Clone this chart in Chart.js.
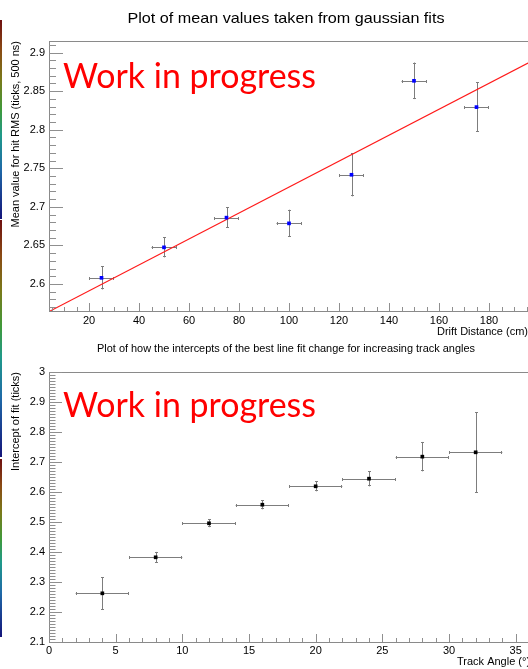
<!DOCTYPE html>
<html>
<head>
<meta charset="utf-8">
<script src="https://cdn.jsdelivr.net/npm/chart.js@4/dist/chart.umd.min.js"></script>
<style>
  html, body { margin: 0; padding: 0; background: #fff; }
  body { width: 528px; height: 669px; overflow: hidden; position: relative; }
  canvas { position: absolute; left: 0; }
  .strip { position: absolute; left: 0; width: 2px;
    background: linear-gradient(to bottom, #6e1010 0%, #8a4a14 15%, #7a7a1a 30%, #3f9a3a 45%, #1f9a8a 58%, #1f6aa8 75%, #14147a 100%); }
</style>
</head>
<body>
<div class="strip" style="top:20px;height:199px"></div>
<div class="strip" style="top:220px;height:237px"></div>
<div class="strip" style="top:459px;height:178px"></div>
<canvas id="c1" width="540" height="340" style="top:0"></canvas>
<canvas id="c2" width="560" height="334" style="top:335px"></canvas>
<script>
// ---------- data: top panel ----------
const driftDistance = [25, 50, 75, 100, 125, 150, 175];
const driftDistanceErr = [5, 5, 5, 5, 5, 5, 5];
const meanRMS = [2.608, 2.6475, 2.686, 2.6786, 2.7416, 2.8634, 2.8293];
const meanRMSErr = [0.0151, 0.013, 0.0134, 0.0177, 0.028, 0.0237, 0.032];
const fitLineX = [4, 196];
const fitLineY = [2.5642, 2.8870];
const topXTicks = [20, 40, 60, 80, 100, 120, 140, 160, 180];
const topXTickLabels = ['20', '40', '60', '80', '100', '120', '140', '160', '180'];
const topYTicks = [2.6, 2.65, 2.7, 2.75, 2.8, 2.85, 2.9];
const topYTickLabels = ['2.6', '2.65', '2.7', '2.75', '2.8', '2.85', '2.9'];

// ---------- data: bottom panel ----------
const trackAngle = [4, 8, 12, 16, 20, 24, 28, 32];
const trackAngleErr = [2, 2, 2, 2, 2, 2, 2, 2];
const interceptFit = [2.2623, 2.3823, 2.4957, 2.5577, 2.619, 2.6444, 2.7178, 2.7323];
const interceptFitErr = [0.054, 0.018, 0.013, 0.0155, 0.0167, 0.0256, 0.049, 0.134];
const botXTicks = [0, 5, 10, 15, 20, 25, 30, 35];
const botXTickLabels = ['0', '5', '10', '15', '20', '25', '30', '35'];
const botYTicks = [2.1, 2.2, 2.3, 2.4, 2.5, 2.6, 2.7, 2.8, 2.9, 3.0];
const botYTickLabels = ['2.1', '2.2', '2.3', '2.4', '2.5', '2.6', '2.7', '2.8', '2.9', '3'];

const FONT = '"Liberation Sans", Arial, sans-serif';

function decoPlugin(cfg) {
  return {
    id: 'deco',
    beforeDatasetsDraw(chart) {
      const { ctx, scales: { x, y } } = chart;
      ctx.save();
      ctx.strokeStyle = '#7d7d7d';
      ctx.lineWidth = 1;
      cfg.xs.forEach((xv, i) => {
        const yv = cfg.ys[i];
        const px = Math.round(x.getPixelForValue(xv)) + 0.5;
        const py = Math.round(y.getPixelForValue(yv)) + 0.5;
        const x0 = x.getPixelForValue(xv - cfg.xe[i]);
        const x1 = x.getPixelForValue(xv + cfg.xe[i]);
        const y0 = y.getPixelForValue(yv + cfg.ye[i]);
        const y1 = y.getPixelForValue(yv - cfg.ye[i]);
        ctx.beginPath();
        ctx.moveTo(x0, py); ctx.lineTo(x1, py);
        ctx.moveTo(px, y0); ctx.lineTo(px, y1);
        ctx.moveTo(Math.round(x0) + 0.5, py - 1.5); ctx.lineTo(Math.round(x0) + 0.5, py + 1.5);
        ctx.moveTo(Math.round(x1) - 0.5, py - 1.5); ctx.lineTo(Math.round(x1) - 0.5, py + 1.5);
        ctx.moveTo(px - 1.5, Math.round(y0) + 0.5); ctx.lineTo(px + 1.5, Math.round(y0) + 0.5);
        ctx.moveTo(px - 1.5, Math.round(y1) - 0.5); ctx.lineTo(px + 1.5, Math.round(y1) - 0.5);
        ctx.stroke();
      });
      ctx.restore();
    },
    afterDraw(chart) {
      const { ctx, chartArea: a, scales: { x, y } } = chart;
      ctx.save();
      // frame
      ctx.strokeStyle = '#8a8a8a';
      ctx.lineWidth = 1;
      ctx.strokeRect(a.left + 0.5, a.top + 0.5, a.right - a.left, a.bottom - a.top);
      // ticks inside the frame
      ctx.strokeStyle = '#8f8f8f';
      ctx.beginPath();
      for (let k = 0; ; k++) {
        const v = cfg.yMinorStart + k * cfg.yMinorStep;
        if (v > y.max + 1e-9) break;
        const major = Math.abs(Math.round(v / cfg.yMajorStep) * cfg.yMajorStep - v) < 1e-6;
        const py = Math.round(y.getPixelForValue(v)) + 0.5;
        ctx.moveTo(a.left, py); ctx.lineTo(a.left + (major ? cfg.yMajorLen : cfg.yMajorLen / 2), py);
      }
      for (let k = 0; ; k++) {
        const v = cfg.xMinorStart + k * cfg.xMinorStep;
        if (v > x.max + 1e-9) break;
        const major = Math.abs(Math.round(v / cfg.xMajorStep) * cfg.xMajorStep - v) < 1e-6;
        const px = Math.round(x.getPixelForValue(v)) + 0.5;
        ctx.moveTo(px, a.bottom); ctx.lineTo(px, a.bottom - (major ? cfg.xMajorLen : cfg.xMajorLen / 2));
      }
      ctx.stroke();
      // chart title (stretched to the reference's width)
      ctx.fillStyle = '#000';
      ctx.textBaseline = 'alphabetic';
      ctx.font = cfg.titleSize + 'px ' + FONT;
      ctx.textAlign = 'center';
      const w = ctx.measureText(cfg.title).width;
      ctx.save();
      ctx.translate(286, cfg.titleY);
      ctx.scale(cfg.titleWidth / w, 1);
      ctx.fillText(cfg.title, 0, 0);
      ctx.restore();
      // axis titles
      ctx.font = '11px ' + FONT;
      ctx.textAlign = cfg.xTitleAlign;
      ctx.fillText(cfg.xTitle, cfg.xTitleX, cfg.xTitleY);
      ctx.save();
      ctx.translate(19, a.top);
      ctx.rotate(-Math.PI / 2);
      ctx.textAlign = 'right';
      ctx.fillText(cfg.yTitle, 0, 0);
      ctx.restore();
      // watermark
      ctx.fillStyle = '#ff0000';
      ctx.font = '35px Lato, "Open Sans", sans-serif';
      ctx.textAlign = 'left';
      ctx.fillText('Work in progress', 63, cfg.wipY, 253);
      ctx.restore();
    }
  };
}

function makeChart(id, opt) {
  const scatterData = opt.xs.map((v, i) => ({ x: v, y: opt.ys[i] }));
  const datasets = [{
    type: 'scatter',
    data: scatterData,
    pointStyle: 'rect',
    pointRadius: 2.6,
    pointBorderWidth: 0,
    pointBackgroundColor: opt.markerColor,
    pointBorderColor: opt.markerColor
  }];
  if (opt.lineX) {
    datasets.push({
      type: 'line',
      data: opt.lineX.map((v, i) => ({ x: v, y: opt.lineY[i] })),
      borderColor: '#ff1a1a',
      borderWidth: 1.1,
      pointRadius: 0,
      fill: false
    });
  }
  const tickFont = { family: FONT, size: 11 };
  return new Chart(document.getElementById(id), {
    type: 'scatter',
    data: { datasets },
    options: {
      responsive: false,
      animation: false,
      devicePixelRatio: 1,
      layout: { padding: opt.padding },
      plugins: { legend: { display: false }, tooltip: { enabled: false }, title: { display: false } },
      scales: {
        x: {
          type: 'linear', min: opt.xMin, max: opt.xMax,
          grid: { display: false, drawTicks: false },
          border: { display: false },
          afterFit: s => { s.height = opt.xAxisHeight; },
          afterBuildTicks: s => { s.ticks = opt.xTicks.map(v => ({ value: v })); },
          ticks: {
            autoSkip: false, maxRotation: 0, padding: opt.xLabelPad, color: '#000', font: tickFont,
            callback: (v, i) => opt.xTickLabels[i]
          }
        },
        y: {
          type: 'linear', min: opt.yMin, max: opt.yMax,
          grid: { display: false, drawTicks: false },
          border: { display: false },
          afterFit: s => { s.width = 49; },
          afterBuildTicks: s => { s.ticks = opt.yTicks.map(v => ({ value: v })); },
          ticks: {
            autoSkip: false, padding: 4, color: '#000', font: tickFont,
            callback: (v, i) => opt.yTickLabels[i]
          }
        }
      }
    },
    plugins: [decoPlugin(opt)]
  });
}

makeChart('c1', {
  xs: driftDistance, xe: driftDistanceErr, ys: meanRMS, ye: meanRMSErr,
  lineX: fitLineX, lineY: fitLineY,
  markerColor: '#0000ff',
  xMin: 4, xMax: 196, yMin: 2.565, yMax: 2.915,
  xTicks: topXTicks, xTickLabels: topXTickLabels,
  yTicks: topYTicks, yTickLabels: topYTickLabels,
  padding: { left: 0, top: 41, right: 11, bottom: 0 },
  xAxisHeight: 29, xLabelPad: 3,
  yMinorStart: 2.57, yMinorStep: 0.01, yMajorStep: 0.05, yMajorLen: 14,
  xMinorStart: 5, xMinorStep: 5, xMajorStep: 20, xMajorLen: 8,
  title: 'Plot of mean values taken from gaussian fits', titleSize: 15, titleWidth: 317, titleY: 23,
  xTitle: 'Drift Distance (cm)', xTitleAlign: 'right', xTitleX: 528, xTitleY: 335,
  yTitle: 'Mean value for hit RMS (ticks, 500 ns)',
  wipY: 88
});

makeChart('c2', {
  xs: trackAngle, xe: trackAngleErr, ys: interceptFit, ye: interceptFitErr,
  markerColor: '#000000',
  xMin: 0, xMax: 37.2, yMin: 2.1, yMax: 3.0,
  xTicks: botXTicks, xTickLabels: botXTickLabels,
  yTicks: botYTicks, yTickLabels: botYTickLabels,
  padding: { left: 0, top: 37, right: 15, bottom: 0 },
  xAxisHeight: 27, xLabelPad: 2,
  yMinorStart: 2.1, yMinorStep: 0.01, yMajorStep: 0.1, yMajorLen: 13,
  xMinorStart: 0, xMinorStep: 1, xMajorStep: 5, xMajorLen: 8,
  title: 'Plot of how the intercepts of the best line fit change for increasing track angles', titleSize: 11, titleWidth: 378, titleY: 17,
  xTitle: 'Track Angle (°)', xTitleAlign: 'left', xTitleX: 457, xTitleY: 330,
  yTitle: 'Intercept of fit (ticks)',
  wipY: 82
});
</script>
</body>
</html>
